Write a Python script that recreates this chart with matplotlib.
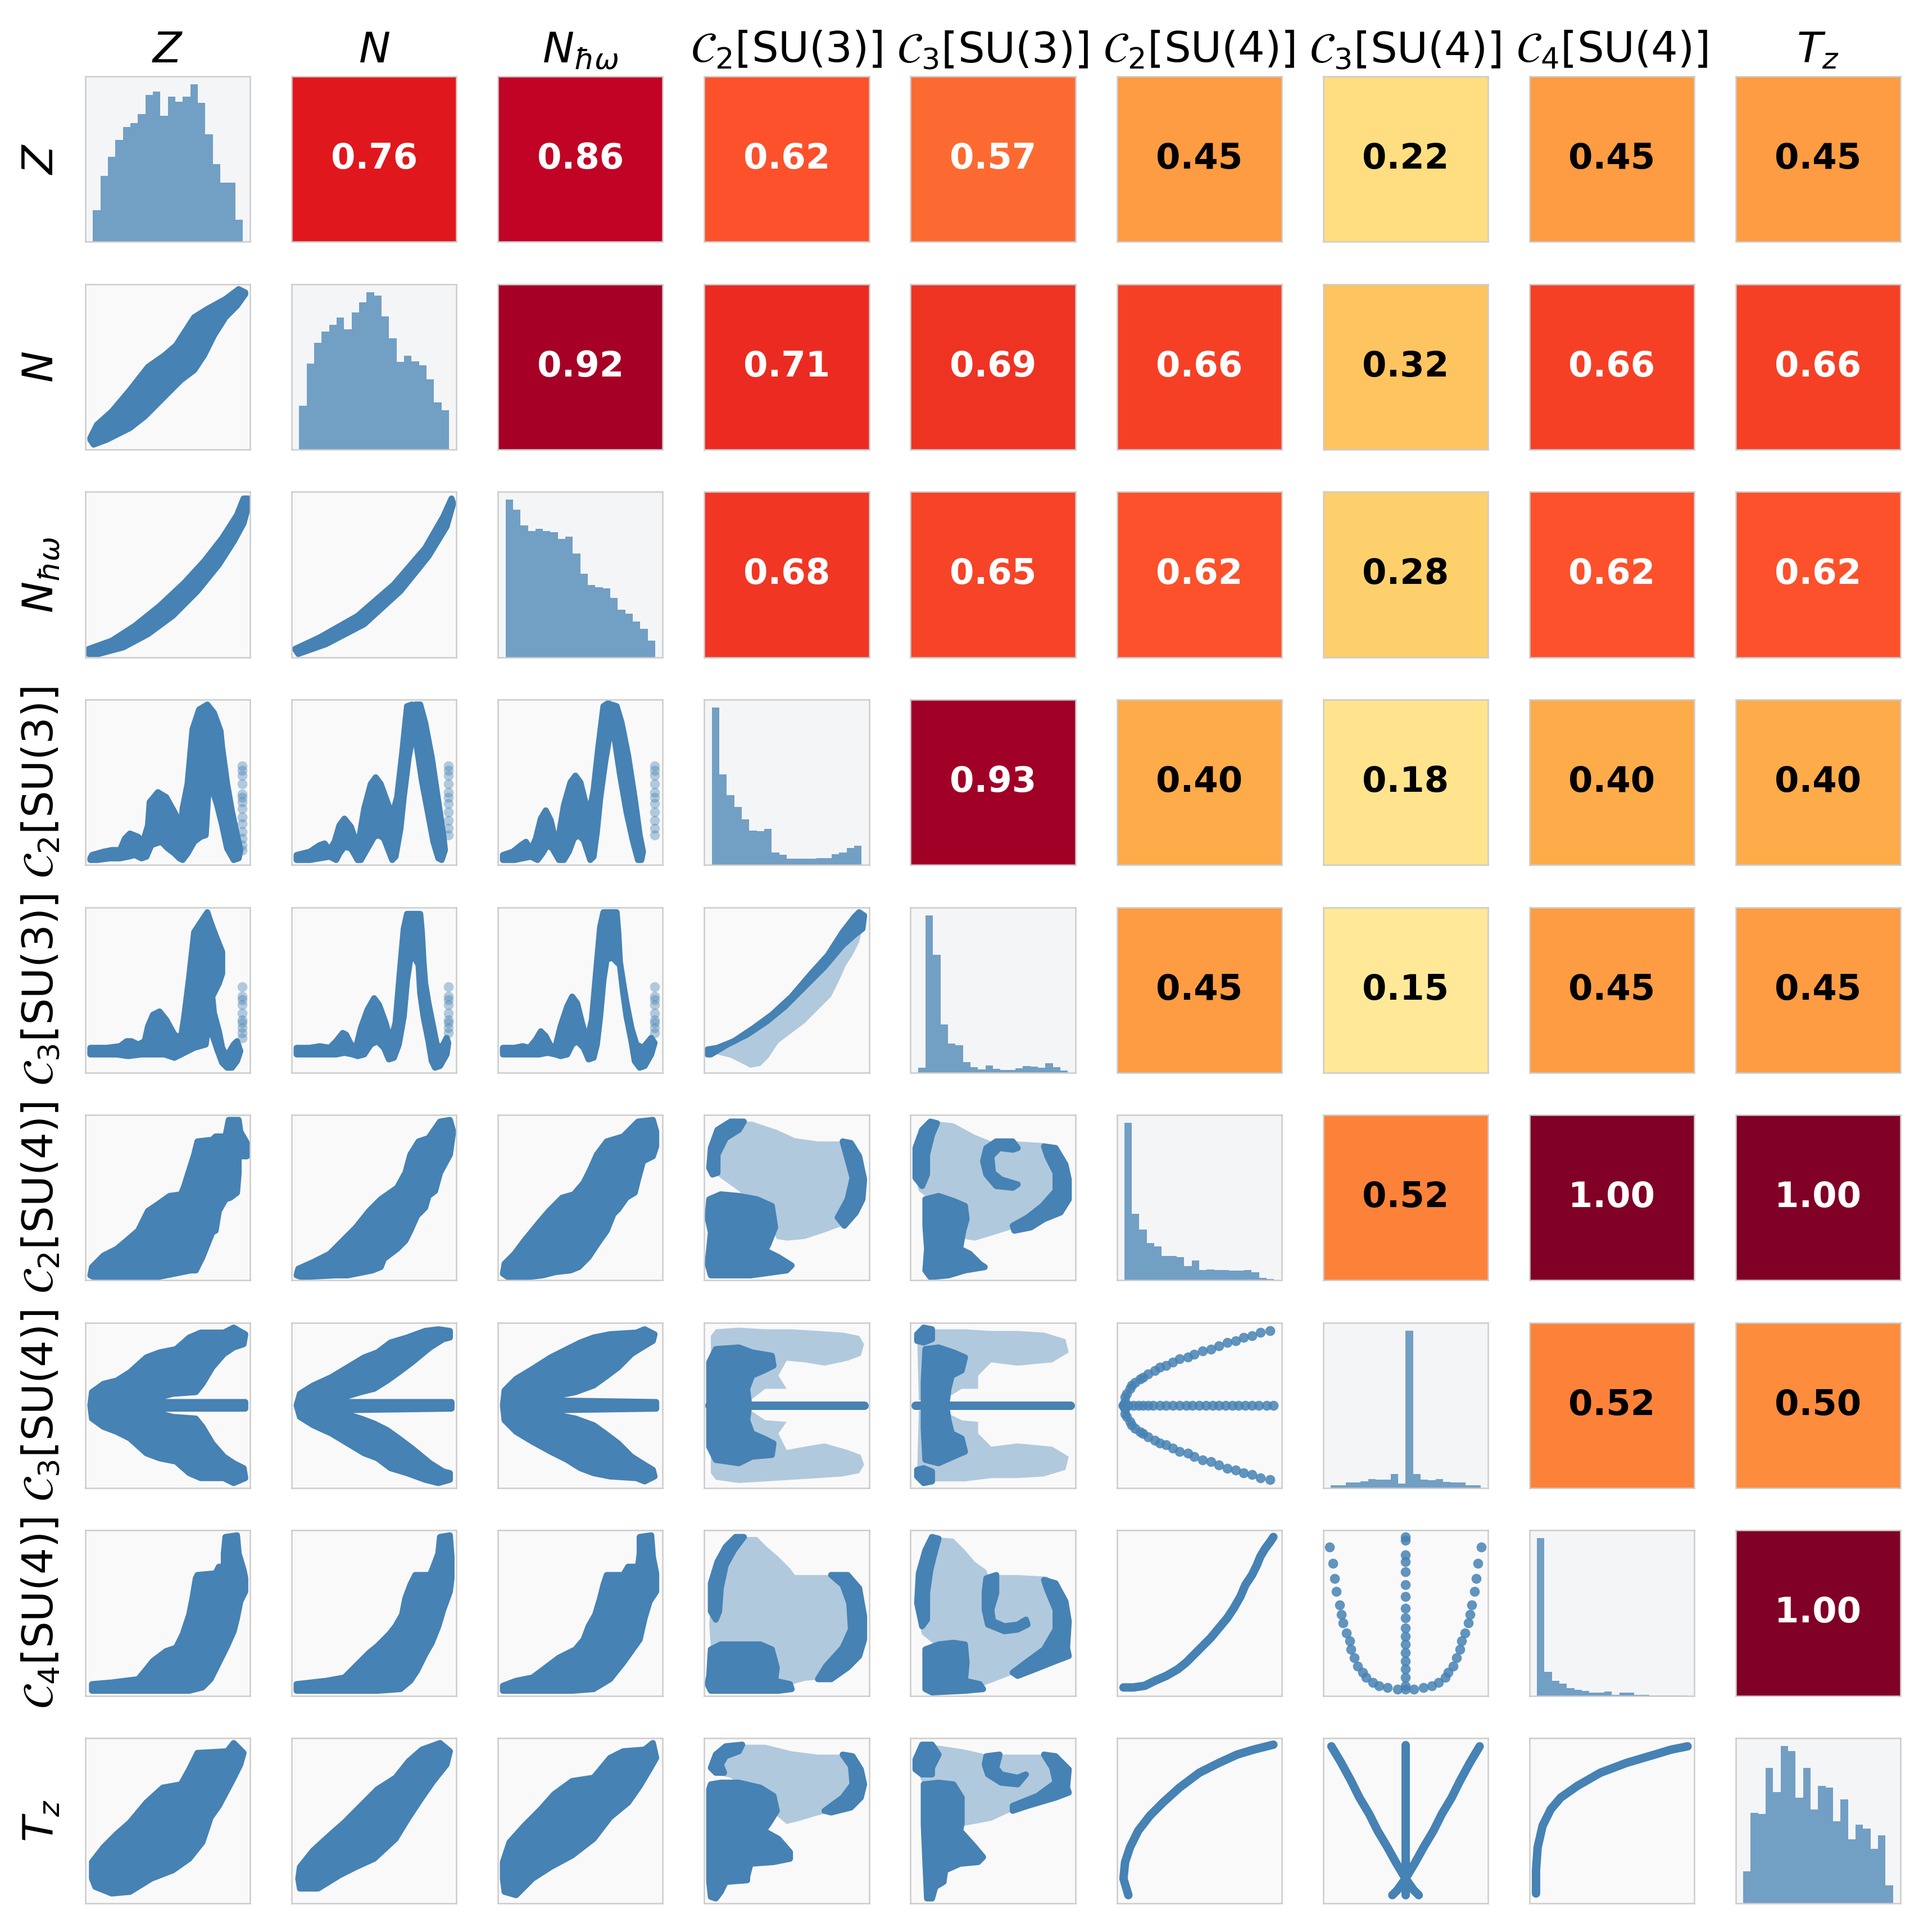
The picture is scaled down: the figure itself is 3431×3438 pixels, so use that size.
import matplotlib.pyplot as plt
from matplotlib import colormaps

# variable names (columns / rows of the pair grid)
labels = [r'$Z$', r'$N$', r'$N_{\hbar\omega}$',
          r'$\mathcal{C}_2[\mathrm{SU}(3)]$', r'$\mathcal{C}_3[\mathrm{SU}(3)]$',
          r'$\mathcal{C}_2[\mathrm{SU}(4)]$', r'$\mathcal{C}_3[\mathrm{SU}(4)]$',
          r'$\mathcal{C}_4[\mathrm{SU}(4)]$', r'$T_z$']

# upper triangle: correlation coefficients, row by row
corr_Z = [0.76, 0.86, 0.62, 0.57, 0.45, 0.22, 0.45, 0.45]
corr_N = [0.92, 0.71, 0.69, 0.66, 0.32, 0.66, 0.66]
corr_Nhw = [0.68, 0.65, 0.62, 0.28, 0.62, 0.62]
corr_C2SU3 = [0.93, 0.40, 0.18, 0.40, 0.40]
corr_C3SU3 = [0.45, 0.15, 0.45, 0.45]
corr_C2SU4 = [0.52, 1.00, 1.00]
corr_C3SU4 = [0.52, 0.50]
corr_C4SU4 = [1.00]
corr_rows = [corr_Z, corr_N, corr_Nhw, corr_C2SU3, corr_C3SU3,
             corr_C2SU4, corr_C3SU4, corr_C4SU4]

# diagonal: histogram counts (20 bins each, arbitrary units)
hist_Z = [98, 204, 262, 314, 354, 366, 394, 452, 462, 388, 448, 432, 447, 485, 429, 331, 239, 182, 183, 68]
hist_N = [135, 263, 328, 362, 383, 405, 368, 421, 452, 483, 472, 409, 341, 268, 287, 270, 258, 216, 144, 120]
hist_Nhw = [840, 786, 702, 672, 684, 672, 666, 630, 642, 552, 444, 384, 372, 366, 315, 255, 234, 192, 153, 90]
hist_C2SU3 = [487, 280, 215, 179, 141, 106, 104, 111, 39, 31, 20, 19, 19, 20, 22, 22, 34, 38, 53, 59]
hist_C3SU3 = [15, 485, 363, 148, 89, 85, 33, 17, 10, 22, 12, 9, 9, 13, 21, 19, 16, 29, 17, 6]
hist_C2SU4 = [837, 354, 270, 198, 180, 129, 129, 123, 75, 105, 54, 57, 54, 54, 51, 51, 54, 42, 12, 6]
hist_C3SU4 = [7, 7, 14, 14, 16, 22, 20, 20, 34, 11, 384, 34, 21, 19, 22, 15, 14, 14, 7, 7]
hist_C4SU4 = [834, 126, 78, 63, 39, 30, 24, 15, 15, 21, 6, 15, 15, 6, 6, 3, 1, 1, 1, 1]
hist_Tz = [79, 221, 218, 331, 272, 385, 373, 258, 331, 229, 287, 283, 201, 254, 157, 193, 183, 133, 166, 44]
hists = [hist_Z, hist_N, hist_Nhw, hist_C2SU3, hist_C3SU3,
         hist_C2SU4, hist_C3SU4, hist_C4SU4, hist_Tz]

# lower triangle: point clouds (scaled 0..1 per panel)
# 'dense' / 'light' = outlines of the crowded / sparse parts of the cloud,
# 'dots' = isolated points, 'pts' = single rows of points, 'curve' = tight point chains
sc_N_Z = {'dense': [[(0.03, 0.07), (0.07, 0.15), (0.16, 0.23), (0.27, 0.36), (0.38, 0.50), (0.48, 0.57),
                     (0.55, 0.63), (0.66, 0.80), (0.74, 0.85), (0.85, 0.91), (0.93, 0.97), (0.97, 0.95),
                     (0.97, 0.94), (0.92, 0.87), (0.85, 0.80), (0.78, 0.69), (0.72, 0.57), (0.66, 0.48),
                     (0.58, 0.42), (0.46, 0.30), (0.36, 0.20), (0.27, 0.13), (0.13, 0.06), (0.05, 0.03),
                     (0.03, 0.06)]]}

sc_Nhw_Z = {'dense': [[(0.02, 0.05), (0.16, 0.10), (0.30, 0.19), (0.45, 0.31), (0.60, 0.45), (0.72, 0.58),
                       (0.83, 0.72), (0.92, 0.86), (0.96, 0.96), (0.99, 0.96), (0.99, 0.92), (0.96, 0.81),
                       (0.90, 0.70), (0.81, 0.56), (0.68, 0.40), (0.53, 0.25), (0.38, 0.14), (0.23, 0.06),
                       (0.08, 0.02), (0.02, 0.02)]]}

sc_Nhw_N = {'dense': [[(0.02, 0.05), (0.17, 0.12), (0.40, 0.25), (0.62, 0.44), (0.81, 0.66), (0.92, 0.85),
                       (0.97, 0.96), (0.98, 0.93), (0.94, 0.79), (0.83, 0.61), (0.66, 0.40), (0.44, 0.20),
                       (0.21, 0.08), (0.04, 0.02)]]}

sc_C2SU3_Z = {
    'dense': [[(0.03, 0.04), (0.04, 0.06), (0.11, 0.08), (0.16, 0.09), (0.21, 0.09), (0.24, 0.16), (0.27, 0.19),
               (0.32, 0.17), (0.35, 0.14), (0.38, 0.24), (0.39, 0.38), (0.44, 0.44), (0.49, 0.41), (0.54, 0.32),
               (0.58, 0.24), (0.59, 0.34), (0.62, 0.49), (0.65, 0.82), (0.69, 0.94), (0.74, 0.97), (0.78, 0.92),
               (0.82, 0.81), (0.83, 0.71), (0.86, 0.49), (0.89, 0.32), (0.92, 0.18), (0.94, 0.09), (0.93, 0.04),
               (0.90, 0.03), (0.86, 0.10), (0.83, 0.24), (0.80, 0.36), (0.76, 0.49), (0.75, 0.51), (0.74, 0.34),
               (0.73, 0.18), (0.70, 0.17), (0.66, 0.14), (0.62, 0.07), (0.59, 0.03), (0.57, 0.04), (0.54, 0.07),
               (0.50, 0.10), (0.46, 0.14), (0.40, 0.12), (0.37, 0.05), (0.34, 0.04), (0.30, 0.06), (0.26, 0.05),
               (0.21, 0.04), (0.15, 0.04), (0.07, 0.03), (0.03, 0.03)]],
    'dots': [[(0.95, 0.60), (0.95, 0.57), (0.95, 0.54), (0.95, 0.49), (0.95, 0.43), (0.95, 0.41), (0.95, 0.38),
              (0.95, 0.34), (0.95, 0.29), (0.95, 0.25), (0.95, 0.20), (0.95, 0.16), (0.95, 0.12), (0.95, 0.09)]]}

sc_C2SU3_N = {
    'dense': [[(0.03, 0.03), (0.03, 0.06), (0.11, 0.08), (0.17, 0.12), (0.20, 0.13), (0.23, 0.09), (0.26, 0.14),
               (0.29, 0.24), (0.32, 0.28), (0.36, 0.23), (0.39, 0.14), (0.41, 0.16), (0.44, 0.34), (0.48, 0.49),
               (0.51, 0.53), (0.54, 0.49), (0.58, 0.38), (0.61, 0.30), (0.64, 0.41), (0.67, 0.67), (0.70, 0.96),
               (0.73, 0.97), (0.75, 0.96), (0.74, 0.81), (0.71, 0.65), (0.68, 0.41), (0.66, 0.22), (0.63, 0.05),
               (0.61, 0.03), (0.56, 0.16), (0.53, 0.18), (0.50, 0.17), (0.46, 0.10), (0.42, 0.03), (0.40, 0.03),
               (0.36, 0.10), (0.32, 0.11), (0.29, 0.07), (0.27, 0.03), (0.23, 0.05), (0.17, 0.04), (0.11, 0.03),
               (0.05, 0.03)],
              [(0.75, 0.97), (0.78, 0.97), (0.81, 0.86), (0.85, 0.65), (0.89, 0.38), (0.92, 0.18), (0.93, 0.09),
               (0.91, 0.03), (0.89, 0.04), (0.86, 0.14), (0.83, 0.30), (0.79, 0.51), (0.76, 0.71), (0.74, 0.81)]],
    'dots': [[(0.95, 0.60), (0.95, 0.57), (0.95, 0.54), (0.95, 0.49), (0.95, 0.44), (0.95, 0.41), (0.95, 0.37),
              (0.95, 0.32), (0.95, 0.27), (0.95, 0.22), (0.95, 0.18)]]}

sc_C2SU3_Nhw = {
    'dense': [[(0.03, 0.03), (0.03, 0.06), (0.09, 0.08), (0.14, 0.12), (0.17, 0.14), (0.20, 0.09), (0.23, 0.16),
               (0.26, 0.28), (0.29, 0.33), (0.32, 0.27), (0.35, 0.14), (0.37, 0.18), (0.40, 0.36), (0.44, 0.50),
               (0.47, 0.54), (0.50, 0.50), (0.53, 0.38), (0.55, 0.30), (0.58, 0.45), (0.61, 0.72), (0.64, 0.96),
               (0.67, 0.98), (0.69, 0.96), (0.68, 0.80), (0.65, 0.62), (0.62, 0.40), (0.60, 0.20), (0.58, 0.05),
               (0.56, 0.03), (0.52, 0.15), (0.49, 0.18), (0.46, 0.16), (0.43, 0.08), (0.40, 0.03), (0.37, 0.03),
               (0.33, 0.10), (0.30, 0.12), (0.27, 0.07), (0.24, 0.03), (0.20, 0.05), (0.15, 0.04), (0.10, 0.03),
               (0.05, 0.03)],
              [(0.69, 0.97), (0.72, 0.96), (0.75, 0.86), (0.79, 0.66), (0.83, 0.40), (0.86, 0.18), (0.88, 0.08),
               (0.87, 0.03), (0.85, 0.03), (0.82, 0.14), (0.78, 0.32), (0.74, 0.55), (0.71, 0.75), (0.68, 0.82)]],
    'dots': [[(0.95, 0.60), (0.95, 0.57), (0.95, 0.54), (0.95, 0.49), (0.95, 0.44), (0.95, 0.41), (0.95, 0.37),
              (0.95, 0.32), (0.95, 0.27), (0.95, 0.22), (0.95, 0.18)]]}

sc_C3SU3_Z = {
    'dense': [[(0.03, 0.11), (0.03, 0.15), (0.13, 0.15), (0.21, 0.16), (0.25, 0.19), (0.28, 0.19), (0.32, 0.17),
               (0.36, 0.19), (0.38, 0.28), (0.41, 0.35), (0.45, 0.37), (0.49, 0.32), (0.54, 0.23), (0.58, 0.21),
               (0.60, 0.34), (0.63, 0.58), (0.66, 0.85), (0.70, 0.91), (0.74, 0.97), (0.76, 0.91), (0.79, 0.83),
               (0.83, 0.73), (0.83, 0.60), (0.81, 0.54), (0.77, 0.46), (0.78, 0.36), (0.81, 0.25), (0.83, 0.15),
               (0.85, 0.11), (0.87, 0.12), (0.90, 0.17), (0.92, 0.19), (0.94, 0.13), (0.92, 0.07), (0.89, 0.03),
               (0.86, 0.03), (0.83, 0.06), (0.80, 0.14), (0.77, 0.23), (0.75, 0.32), (0.73, 0.17), (0.66, 0.15),
               (0.58, 0.11), (0.54, 0.09), (0.48, 0.11), (0.42, 0.11), (0.34, 0.11), (0.26, 0.10), (0.19, 0.11),
               (0.07, 0.11)]],
    'dots': [[(0.95, 0.52), (0.95, 0.46), (0.95, 0.44), (0.95, 0.41), (0.95, 0.36), (0.95, 0.32), (0.95, 0.30),
              (0.95, 0.27), (0.95, 0.24), (0.95, 0.21)]]}

sc_C3SU3_N = {
    'dense': [[(0.03, 0.11), (0.03, 0.15), (0.11, 0.15), (0.17, 0.16), (0.23, 0.15), (0.27, 0.19), (0.31, 0.24),
               (0.33, 0.23), (0.36, 0.17), (0.39, 0.15), (0.42, 0.27), (0.46, 0.38), (0.50, 0.45), (0.53, 0.41),
               (0.57, 0.30), (0.60, 0.19), (0.63, 0.30), (0.66, 0.65), (0.68, 0.87), (0.70, 0.96), (0.74, 0.96),
               (0.75, 0.85), (0.74, 0.69), (0.72, 0.69), (0.70, 0.56), (0.68, 0.34), (0.65, 0.17), (0.62, 0.09),
               (0.59, 0.08), (0.56, 0.15), (0.52, 0.19), (0.48, 0.17), (0.44, 0.11), (0.40, 0.10), (0.37, 0.11),
               (0.32, 0.12), (0.27, 0.11), (0.19, 0.11), (0.11, 0.11)],
              [(0.74, 0.96), (0.78, 0.96), (0.79, 0.85), (0.80, 0.67), (0.81, 0.54), (0.83, 0.42), (0.86, 0.27),
               (0.88, 0.17), (0.91, 0.15), (0.94, 0.21), (0.95, 0.18), (0.94, 0.11), (0.90, 0.04), (0.87, 0.03),
               (0.85, 0.07), (0.83, 0.19), (0.80, 0.34), (0.78, 0.48), (0.77, 0.65), (0.75, 0.69)]],
    'dots': [[(0.95, 0.52), (0.95, 0.46), (0.95, 0.44), (0.95, 0.41), (0.95, 0.36), (0.95, 0.32), (0.95, 0.30),
              (0.95, 0.27), (0.95, 0.24)]]}

sc_C3SU3_Nhw = {
    'dense': [[(0.03, 0.11), (0.03, 0.15), (0.10, 0.15), (0.15, 0.16), (0.19, 0.15), (0.23, 0.20), (0.26, 0.25),
               (0.29, 0.22), (0.32, 0.16), (0.35, 0.16), (0.38, 0.28), (0.42, 0.40), (0.45, 0.46), (0.48, 0.42),
               (0.51, 0.30), (0.54, 0.19), (0.57, 0.32), (0.60, 0.66), (0.62, 0.88), (0.64, 0.97), (0.68, 0.97),
               (0.69, 0.85), (0.68, 0.69), (0.66, 0.69), (0.64, 0.56), (0.62, 0.34), (0.60, 0.17), (0.58, 0.09),
               (0.55, 0.08), (0.52, 0.15), (0.48, 0.19), (0.45, 0.17), (0.42, 0.11), (0.38, 0.10), (0.35, 0.11),
               (0.30, 0.12), (0.25, 0.11), (0.18, 0.11), (0.10, 0.11)],
              [(0.68, 0.97), (0.72, 0.97), (0.73, 0.85), (0.74, 0.67), (0.76, 0.54), (0.78, 0.42), (0.81, 0.27),
               (0.84, 0.17), (0.88, 0.15), (0.93, 0.21), (0.95, 0.18), (0.93, 0.11), (0.89, 0.04), (0.86, 0.03),
               (0.83, 0.07), (0.81, 0.19), (0.78, 0.34), (0.76, 0.48), (0.74, 0.65), (0.70, 0.69)]],
    'dots': [[(0.95, 0.52), (0.95, 0.46), (0.95, 0.44), (0.95, 0.41), (0.95, 0.36), (0.95, 0.32), (0.95, 0.30),
              (0.95, 0.27), (0.95, 0.24)]]}

sc_C3SU3_C2SU3 = {
    'light': [[(0.02, 0.14), (0.08, 0.15), (0.18, 0.19), (0.30, 0.27), (0.41, 0.35), (0.53, 0.46), (0.65, 0.60),
               (0.75, 0.71), (0.84, 0.85), (0.91, 0.94), (0.94, 0.97), (0.97, 0.95), (0.96, 0.87), (0.94, 0.79),
               (0.90, 0.71), (0.86, 0.65), (0.82, 0.56), (0.77, 0.46), (0.69, 0.38), (0.61, 0.30), (0.53, 0.24),
               (0.45, 0.18), (0.39, 0.09), (0.34, 0.04), (0.28, 0.03), (0.22, 0.06), (0.16, 0.09), (0.08, 0.11),
               (0.02, 0.11)]],
    'dense': [[(0.02, 0.14), (0.08, 0.15), (0.18, 0.19), (0.30, 0.27), (0.41, 0.35), (0.53, 0.46), (0.65, 0.60),
               (0.75, 0.71), (0.84, 0.85), (0.91, 0.94), (0.94, 0.97), (0.97, 0.95), (0.96, 0.87), (0.92, 0.84),
               (0.84, 0.77), (0.73, 0.64), (0.61, 0.52), (0.49, 0.40), (0.38, 0.31), (0.26, 0.23), (0.14, 0.17),
               (0.04, 0.11), (0.02, 0.11)]]}

sc_C2SU4_Z = {'dense': [[(0.03, 0.03), (0.04, 0.08), (0.11, 0.15), (0.19, 0.19), (0.25, 0.24), (0.32, 0.30),
                         (0.38, 0.42), (0.44, 0.46), (0.51, 0.51), (0.58, 0.52), (0.60, 0.57), (0.66, 0.76),
                         (0.68, 0.84), (0.77, 0.85), (0.79, 0.87), (0.85, 0.87), (0.87, 0.97), (0.93, 0.97),
                         (0.94, 0.90), (0.98, 0.83), (0.98, 0.75), (0.93, 0.75), (0.93, 0.65), (0.92, 0.53),
                         (0.88, 0.50), (0.85, 0.49), (0.81, 0.42), (0.79, 0.30), (0.77, 0.29), (0.71, 0.14),
                         (0.67, 0.06), (0.64, 0.06), (0.54, 0.04), (0.44, 0.02), (0.05, 0.02)]]}

sc_C2SU4_N = {'dense': [[(0.03, 0.03), (0.04, 0.07), (0.13, 0.11), (0.23, 0.16), (0.31, 0.24), (0.39, 0.32),
                         (0.47, 0.42), (0.54, 0.49), (0.64, 0.56), (0.69, 0.65), (0.72, 0.76), (0.77, 0.84),
                         (0.83, 0.86), (0.90, 0.96), (0.96, 0.97), (0.98, 0.90), (0.96, 0.76), (0.90, 0.65),
                         (0.87, 0.54), (0.83, 0.51), (0.81, 0.44), (0.76, 0.39), (0.72, 0.30), (0.69, 0.24),
                         (0.64, 0.19), (0.56, 0.13), (0.54, 0.08), (0.49, 0.06), (0.44, 0.05), (0.34, 0.03),
                         (0.27, 0.03), (0.06, 0.02)]]}

sc_C2SU4_Nhw = {'dense': [[(0.03, 0.04), (0.04, 0.10), (0.10, 0.16), (0.16, 0.24), (0.25, 0.35), (0.31, 0.42),
                           (0.39, 0.50), (0.46, 0.52), (0.52, 0.59), (0.56, 0.67), (0.60, 0.76), (0.66, 0.84),
                           (0.76, 0.87), (0.85, 0.96), (0.94, 0.97), (0.96, 0.90), (0.96, 0.81), (0.94, 0.75),
                           (0.88, 0.72), (0.85, 0.61), (0.83, 0.53), (0.78, 0.50), (0.73, 0.43), (0.70, 0.40),
                           (0.66, 0.30), (0.61, 0.23), (0.55, 0.14), (0.49, 0.08), (0.44, 0.06), (0.35, 0.05),
                           (0.27, 0.03), (0.18, 0.02), (0.06, 0.02)]]}

sc_C2SU4_C2SU3 = {
    'light': [[(0.03, 0.70), (0.04, 0.83), (0.10, 0.92), (0.18, 0.96), (0.29, 0.96), (0.44, 0.91), (0.55, 0.86),
               (0.69, 0.84), (0.87, 0.84), (0.94, 0.76), (0.97, 0.62), (0.96, 0.49), (0.92, 0.41), (0.84, 0.33),
               (0.73, 0.29), (0.61, 0.25), (0.50, 0.24), (0.44, 0.25), (0.41, 0.32), (0.21, 0.54), (0.07, 0.64)]],
    'dense': [[(0.03, 0.49), (0.10, 0.52), (0.21, 0.51), (0.32, 0.49), (0.41, 0.45), (0.43, 0.32), (0.39, 0.22),
               (0.37, 0.18), (0.45, 0.14), (0.53, 0.09), (0.50, 0.06), (0.28, 0.03), (0.04, 0.03), (0.02, 0.10),
               (0.03, 0.19), (0.04, 0.29), (0.02, 0.38)],
              [(0.03, 0.68), (0.04, 0.80), (0.08, 0.91), (0.16, 0.96), (0.24, 0.96), (0.21, 0.91), (0.13, 0.86),
               (0.08, 0.76), (0.08, 0.65), (0.05, 0.64)],
              [(0.84, 0.84), (0.89, 0.83), (0.94, 0.75), (0.97, 0.61), (0.96, 0.49), (0.92, 0.41), (0.85, 0.33),
               (0.81, 0.38), (0.87, 0.49), (0.90, 0.62), (0.87, 0.73)]]}

sc_C2SU4_C3SU3 = {
    'light': [[(0.03, 0.62), (0.04, 0.81), (0.09, 0.94), (0.17, 0.96), (0.26, 0.95), (0.39, 0.88), (0.49, 0.84),
               (0.65, 0.84), (0.81, 0.83), (0.91, 0.78), (0.96, 0.66), (0.95, 0.57), (0.96, 0.46), (0.91, 0.40),
               (0.78, 0.35), (0.65, 0.32), (0.49, 0.27), (0.39, 0.24), (0.33, 0.25), (0.30, 0.35), (0.17, 0.45),
               (0.05, 0.54)]],
    'dense': [[(0.09, 0.49), (0.17, 0.51), (0.26, 0.48), (0.33, 0.45), (0.34, 0.37), (0.32, 0.30), (0.30, 0.19),
               (0.36, 0.16), (0.42, 0.10), (0.45, 0.08), (0.33, 0.06), (0.23, 0.03), (0.12, 0.02), (0.09, 0.06),
               (0.10, 0.19), (0.09, 0.33)],
              [(0.03, 0.62), (0.03, 0.80), (0.07, 0.91), (0.12, 0.96), (0.16, 0.95), (0.13, 0.88), (0.10, 0.76),
               (0.10, 0.64), (0.07, 0.57)],
              [(0.46, 0.80), (0.52, 0.84), (0.62, 0.84), (0.65, 0.80), (0.62, 0.79), (0.54, 0.80), (0.49, 0.75),
               (0.50, 0.65), (0.55, 0.61), (0.65, 0.58), (0.62, 0.56), (0.52, 0.57), (0.46, 0.64), (0.44, 0.72)],
              [(0.81, 0.81), (0.88, 0.80), (0.94, 0.70), (0.96, 0.61), (0.96, 0.49), (0.91, 0.41), (0.81, 0.37),
               (0.73, 0.32), (0.63, 0.30), (0.62, 0.33), (0.71, 0.38), (0.80, 0.45), (0.88, 0.54), (0.88, 0.65),
               (0.83, 0.75)]]}

sc_C3SU4_Z = {'dense': [[(0.03, 0.50), (0.04, 0.58), (0.11, 0.63), (0.19, 0.65), (0.27, 0.70), (0.37, 0.79),
                         (0.45, 0.82), (0.55, 0.84), (0.63, 0.91), (0.70, 0.94), (0.84, 0.94), (0.90, 0.97),
                         (0.97, 0.93), (0.96, 0.87), (0.90, 0.85), (0.84, 0.81), (0.77, 0.73), (0.71, 0.63),
                         (0.67, 0.58), (0.53, 0.57), (0.42, 0.54), (0.37, 0.52), (0.97, 0.52), (0.97, 0.48),
                         (0.37, 0.48), (0.42, 0.46), (0.53, 0.43), (0.67, 0.42), (0.71, 0.37), (0.77, 0.27),
                         (0.84, 0.19), (0.90, 0.15), (0.96, 0.12), (0.97, 0.06), (0.90, 0.03), (0.84, 0.06),
                         (0.70, 0.06), (0.63, 0.09), (0.55, 0.16), (0.45, 0.18), (0.37, 0.21), (0.27, 0.30),
                         (0.19, 0.34), (0.11, 0.37), (0.04, 0.42)]]}

sc_C3SU4_N = {'dense': [[(0.03, 0.50), (0.05, 0.57), (0.13, 0.62), (0.24, 0.67), (0.34, 0.73), (0.44, 0.79),
                         (0.52, 0.82), (0.60, 0.88), (0.70, 0.91), (0.81, 0.95), (0.89, 0.96), (0.96, 0.95),
                         (0.96, 0.91), (0.92, 0.90), (0.84, 0.85), (0.73, 0.76), (0.65, 0.70), (0.58, 0.65),
                         (0.50, 0.60), (0.42, 0.58), (0.32, 0.55), (0.24, 0.52), (0.97, 0.52), (0.97, 0.48),
                         (0.24, 0.47), (0.32, 0.45), (0.42, 0.42), (0.50, 0.39), (0.58, 0.35), (0.65, 0.30),
                         (0.73, 0.24), (0.84, 0.15), (0.92, 0.10), (0.96, 0.09), (0.96, 0.05), (0.89, 0.03),
                         (0.81, 0.05), (0.70, 0.09), (0.60, 0.12), (0.52, 0.18), (0.44, 0.21), (0.34, 0.27),
                         (0.24, 0.33), (0.13, 0.38), (0.05, 0.43)]]}

sc_C3SU4_Nhw = {'dense': [[(0.03, 0.50), (0.04, 0.59), (0.11, 0.66), (0.21, 0.72), (0.32, 0.79), (0.42, 0.84),
                           (0.50, 0.88), (0.58, 0.91), (0.68, 0.93), (0.84, 0.94), (0.89, 0.96), (0.95, 0.93),
                           (0.94, 0.89), (0.89, 0.86), (0.81, 0.81), (0.73, 0.73), (0.65, 0.67), (0.58, 0.62),
                           (0.47, 0.58), (0.37, 0.56), (0.29, 0.53), (0.96, 0.52), (0.96, 0.48), (0.29, 0.47),
                           (0.37, 0.44), (0.47, 0.42), (0.58, 0.38), (0.65, 0.33), (0.73, 0.27), (0.81, 0.19),
                           (0.89, 0.14), (0.94, 0.11), (0.95, 0.07), (0.89, 0.04), (0.84, 0.06), (0.68, 0.07),
                           (0.58, 0.09), (0.50, 0.12), (0.42, 0.17), (0.32, 0.22), (0.21, 0.28), (0.11, 0.34),
                           (0.04, 0.41)]]}

sc_C3SU4_C2SU3 = {
    'light': [[(0.04, 0.92), (0.07, 0.96), (0.21, 0.97), (0.37, 0.96), (0.53, 0.96), (0.69, 0.95), (0.84, 0.94),
               (0.94, 0.92), (0.97, 0.87), (0.95, 0.80), (0.87, 0.77), (0.73, 0.74), (0.61, 0.76), (0.50, 0.77),
               (0.45, 0.68), (0.50, 0.60), (0.37, 0.60), (0.28, 0.53), (0.04, 0.53)],
              [(0.04, 0.47), (0.28, 0.47), (0.37, 0.41), (0.50, 0.40), (0.45, 0.33), (0.50, 0.23), (0.61, 0.25),
               (0.73, 0.27), (0.87, 0.23), (0.95, 0.20), (0.97, 0.14), (0.94, 0.09), (0.84, 0.07), (0.69, 0.06),
               (0.53, 0.05), (0.37, 0.04), (0.21, 0.03), (0.07, 0.05), (0.04, 0.09)]],
    'dense': [[(0.03, 0.76), (0.07, 0.84), (0.21, 0.85), (0.29, 0.82), (0.41, 0.80), (0.42, 0.74), (0.36, 0.71),
               (0.29, 0.68), (0.26, 0.60), (0.27, 0.52), (0.27, 0.48), (0.26, 0.41), (0.29, 0.33), (0.36, 0.30),
               (0.42, 0.27), (0.41, 0.20), (0.29, 0.19), (0.21, 0.15), (0.07, 0.17), (0.03, 0.25)]],
    'curve': [[(0.03, 0.50), (0.97, 0.50)]]}

sc_C3SU4_C3SU3 = {
    'light': [[(0.04, 0.92), (0.12, 0.96), (0.33, 0.96), (0.49, 0.95), (0.65, 0.95), (0.81, 0.94), (0.94, 0.90),
               (0.96, 0.82), (0.86, 0.76), (0.65, 0.74), (0.49, 0.76), (0.41, 0.68), (0.41, 0.60), (0.31, 0.60),
               (0.23, 0.55), (0.05, 0.53)],
              [(0.05, 0.47), (0.23, 0.45), (0.31, 0.41), (0.41, 0.40), (0.41, 0.33), (0.49, 0.25), (0.65, 0.27),
               (0.86, 0.25), (0.96, 0.19), (0.94, 0.11), (0.81, 0.07), (0.65, 0.06), (0.49, 0.06), (0.33, 0.04),
               (0.12, 0.04), (0.04, 0.09)]],
    'dense': [[(0.09, 0.84), (0.17, 0.85), (0.26, 0.82), (0.33, 0.79), (0.31, 0.71), (0.25, 0.68), (0.23, 0.60),
               (0.22, 0.52), (0.22, 0.48), (0.23, 0.41), (0.25, 0.33), (0.31, 0.30), (0.33, 0.22), (0.26, 0.19),
               (0.17, 0.15), (0.09, 0.17), (0.08, 0.36), (0.08, 0.64)],
              [(0.04, 0.93), (0.08, 0.97), (0.13, 0.96), (0.13, 0.90), (0.08, 0.88), (0.04, 0.89)],
              [(0.04, 0.07), (0.08, 0.03), (0.13, 0.04), (0.13, 0.10), (0.08, 0.12), (0.04, 0.11)]],
    'curve': [[(0.03, 0.50), (0.97, 0.50)]]}

sc_C3SU4_C2SU4 = {'pts': [
    [(0.04, 0.50), (0.05, 0.52), (0.05, 0.55), (0.06, 0.57), (0.08, 0.60), (0.09, 0.62), (0.11, 0.64), (0.14, 0.66),
     (0.16, 0.67), (0.19, 0.69), (0.23, 0.71), (0.26, 0.73), (0.30, 0.74), (0.34, 0.76), (0.38, 0.78), (0.43, 0.79),
     (0.47, 0.81), (0.52, 0.83), (0.57, 0.84), (0.62, 0.86), (0.67, 0.88), (0.72, 0.89), (0.77, 0.91), (0.82, 0.92),
     (0.87, 0.94), (0.93, 0.95)],
    [(0.04, 0.50), (0.05, 0.48), (0.05, 0.45), (0.06, 0.43), (0.08, 0.40), (0.09, 0.38), (0.11, 0.36), (0.14, 0.34),
     (0.16, 0.33), (0.19, 0.31), (0.23, 0.29), (0.26, 0.27), (0.30, 0.26), (0.34, 0.24), (0.38, 0.22), (0.43, 0.21),
     (0.47, 0.19), (0.52, 0.17), (0.57, 0.16), (0.62, 0.14), (0.67, 0.12), (0.72, 0.11), (0.77, 0.09), (0.82, 0.08),
     (0.87, 0.06), (0.93, 0.05)],
    [(0.04, 0.50), (0.07, 0.50), (0.10, 0.50), (0.13, 0.50), (0.16, 0.50), (0.19, 0.50), (0.22, 0.50), (0.26, 0.50),
     (0.30, 0.50), (0.34, 0.50), (0.38, 0.50), (0.42, 0.50), (0.46, 0.50), (0.50, 0.50), (0.54, 0.50), (0.58, 0.50),
     (0.62, 0.50), (0.66, 0.50), (0.70, 0.50), (0.74, 0.50), (0.78, 0.50), (0.82, 0.50), (0.86, 0.50), (0.91, 0.50),
     (0.95, 0.50)]]}

sc_C4SU4_Z = {'dense': [[(0.04, 0.07), (0.16, 0.08), (0.32, 0.10), (0.37, 0.16), (0.41, 0.21), (0.49, 0.27),
                         (0.55, 0.29), (0.59, 0.37), (0.63, 0.49), (0.65, 0.59), (0.67, 0.71), (0.68, 0.73),
                         (0.79, 0.74), (0.81, 0.78), (0.84, 0.78), (0.84, 0.86), (0.85, 0.96), (0.92, 0.97),
                         (0.93, 0.86), (0.96, 0.76), (0.97, 0.71), (0.97, 0.63), (0.94, 0.57), (0.92, 0.47),
                         (0.90, 0.39), (0.86, 0.30), (0.81, 0.20), (0.76, 0.10), (0.71, 0.05), (0.63, 0.03),
                         (0.40, 0.03), (0.04, 0.03)]]}

sc_C4SU4_N = {'dense': [[(0.03, 0.07), (0.21, 0.09), (0.32, 0.11), (0.39, 0.18), (0.47, 0.26), (0.52, 0.30),
                         (0.59, 0.37), (0.63, 0.42), (0.67, 0.49), (0.69, 0.59), (0.72, 0.67), (0.75, 0.73),
                         (0.84, 0.73), (0.86, 0.78), (0.89, 0.86), (0.90, 0.96), (0.96, 0.97), (0.97, 0.84),
                         (0.97, 0.71), (0.96, 0.63), (0.92, 0.52), (0.89, 0.42), (0.85, 0.32), (0.81, 0.25),
                         (0.76, 0.15), (0.72, 0.09), (0.66, 0.04), (0.52, 0.03), (0.03, 0.03)]]}

sc_C4SU4_Nhw = {'dense': [[(0.03, 0.06), (0.11, 0.09), (0.21, 0.11), (0.29, 0.17), (0.37, 0.23), (0.47, 0.28),
                           (0.52, 0.34), (0.55, 0.42), (0.59, 0.49), (0.62, 0.59), (0.64, 0.67), (0.66, 0.73),
                           (0.76, 0.73), (0.79, 0.78), (0.85, 0.78), (0.86, 0.86), (0.86, 0.96), (0.93, 0.97),
                           (0.94, 0.84), (0.96, 0.74), (0.96, 0.63), (0.92, 0.57), (0.89, 0.47), (0.86, 0.34),
                           (0.81, 0.27), (0.76, 0.20), (0.68, 0.10), (0.58, 0.04), (0.45, 0.03), (0.03, 0.03)]]}

sc_C4SU4_C2SU3 = {
    'light': [[(0.04, 0.56), (0.04, 0.71), (0.08, 0.84), (0.13, 0.93), (0.21, 0.96), (0.32, 0.96), (0.38, 0.90),
               (0.45, 0.84), (0.52, 0.77), (0.55, 0.73), (0.69, 0.73), (0.87, 0.73), (0.94, 0.63), (0.97, 0.48),
               (0.96, 0.32), (0.92, 0.24), (0.84, 0.15), (0.73, 0.10), (0.61, 0.09), (0.50, 0.06), (0.44, 0.09),
               (0.44, 0.18), (0.37, 0.29), (0.21, 0.32), (0.04, 0.29), (0.03, 0.43)]],
    'dense': [[(0.03, 0.12), (0.04, 0.28), (0.10, 0.31), (0.21, 0.31), (0.34, 0.31), (0.41, 0.28), (0.44, 0.17),
               (0.43, 0.09), (0.52, 0.07), (0.53, 0.04), (0.45, 0.03), (0.29, 0.03), (0.04, 0.03), (0.02, 0.07)],
              [(0.77, 0.73), (0.87, 0.73), (0.94, 0.65), (0.97, 0.48), (0.97, 0.34), (0.94, 0.24), (0.87, 0.17),
               (0.77, 0.10), (0.69, 0.10), (0.74, 0.18), (0.84, 0.29), (0.89, 0.40), (0.88, 0.56), (0.84, 0.67)],
              [(0.04, 0.51), (0.04, 0.68), (0.08, 0.81), (0.13, 0.90), (0.19, 0.96), (0.24, 0.96), (0.18, 0.88),
               (0.13, 0.79), (0.10, 0.65), (0.09, 0.51), (0.07, 0.46)]]}

sc_C4SU4_C3SU3 = {
    'light': [[(0.04, 0.48), (0.05, 0.71), (0.09, 0.87), (0.13, 0.96), (0.26, 0.95), (0.33, 0.88), (0.39, 0.81),
               (0.46, 0.76), (0.47, 0.73), (0.65, 0.73), (0.83, 0.72), (0.89, 0.67), (0.96, 0.51), (0.96, 0.34),
               (0.96, 0.24), (0.91, 0.21), (0.81, 0.18), (0.65, 0.14), (0.52, 0.09), (0.44, 0.06), (0.33, 0.04),
               (0.31, 0.15), (0.17, 0.29), (0.07, 0.37)]],
    'dense': [[(0.09, 0.28), (0.17, 0.31), (0.26, 0.32), (0.33, 0.31), (0.34, 0.20), (0.33, 0.09), (0.42, 0.07),
               (0.44, 0.04), (0.33, 0.03), (0.13, 0.02), (0.09, 0.04), (0.09, 0.15)],
              [(0.04, 0.56), (0.05, 0.74), (0.09, 0.88), (0.13, 0.96), (0.17, 0.95), (0.15, 0.88), (0.12, 0.76),
               (0.10, 0.62), (0.10, 0.46), (0.07, 0.42)],
              [(0.46, 0.71), (0.52, 0.73), (0.52, 0.62), (0.49, 0.52), (0.50, 0.45), (0.57, 0.42), (0.65, 0.43),
               (0.70, 0.46), (0.71, 0.43), (0.65, 0.40), (0.57, 0.39), (0.47, 0.43), (0.45, 0.52), (0.45, 0.63)],
              [(0.81, 0.70), (0.88, 0.68), (0.94, 0.57), (0.96, 0.45), (0.95, 0.29), (0.96, 0.24), (0.88, 0.21),
               (0.78, 0.17), (0.65, 0.12), (0.62, 0.14), (0.70, 0.20), (0.81, 0.28), (0.88, 0.40), (0.88, 0.52),
               (0.83, 0.64)]]}

sc_C4SU4_C2SU4 = {'curve': [[(0.04, 0.05), (0.10, 0.05), (0.17, 0.06), (0.23, 0.09), (0.30, 0.12), (0.37, 0.16),
                             (0.42, 0.20), (0.47, 0.25), (0.52, 0.30), (0.57, 0.35), (0.62, 0.41), (0.67, 0.47),
                             (0.71, 0.53), (0.75, 0.60), (0.78, 0.67), (0.82, 0.73), (0.85, 0.79), (0.87, 0.84),
                             (0.90, 0.89), (0.93, 0.93), (0.95, 0.96)]]}

sc_C4SU4_C3SU4 = {'pts': [
    [(0.04, 0.90), (0.06, 0.80), (0.07, 0.71), (0.08, 0.63), (0.10, 0.55), (0.11, 0.49), (0.12, 0.44), (0.14, 0.38),
     (0.16, 0.33), (0.17, 0.28), (0.19, 0.23), (0.21, 0.18), (0.24, 0.14), (0.26, 0.11), (0.30, 0.08), (0.34, 0.06),
     (0.39, 0.05), (0.45, 0.04), (0.50, 0.04)],
    [(0.96, 0.90), (0.94, 0.80), (0.93, 0.71), (0.92, 0.63), (0.90, 0.55), (0.89, 0.49), (0.88, 0.44), (0.86, 0.38),
     (0.84, 0.33), (0.83, 0.28), (0.81, 0.23), (0.79, 0.18), (0.76, 0.14), (0.74, 0.11), (0.70, 0.08), (0.66, 0.06),
     (0.61, 0.05), (0.55, 0.04)],
    [(0.50, 0.96), (0.50, 0.94), (0.50, 0.85), (0.50, 0.81), (0.50, 0.75), (0.50, 0.67), (0.50, 0.60), (0.50, 0.53),
     (0.50, 0.47), (0.50, 0.41), (0.50, 0.36), (0.50, 0.31), (0.50, 0.26), (0.50, 0.21), (0.50, 0.16), (0.50, 0.11),
     (0.50, 0.06)]]}

sc_Tz_Z = {'dense': [[(0.04, 0.15), (0.04, 0.25), (0.11, 0.34), (0.19, 0.42), (0.27, 0.49), (0.37, 0.61),
                      (0.47, 0.70), (0.58, 0.72), (0.63, 0.81), (0.68, 0.91), (0.86, 0.92), (0.90, 0.97),
                      (0.96, 0.91), (0.94, 0.84), (0.89, 0.74), (0.81, 0.59), (0.76, 0.52), (0.71, 0.37),
                      (0.63, 0.27), (0.53, 0.20), (0.40, 0.15), (0.27, 0.07), (0.16, 0.06), (0.06, 0.10)]]}

sc_Tz_N = {'dense': [[(0.04, 0.15), (0.05, 0.22), (0.13, 0.32), (0.24, 0.42), (0.32, 0.49), (0.42, 0.59),
                      (0.52, 0.69), (0.63, 0.76), (0.71, 0.86), (0.79, 0.93), (0.90, 0.97), (0.96, 0.92),
                      (0.94, 0.84), (0.86, 0.74), (0.79, 0.64), (0.71, 0.52), (0.63, 0.39), (0.50, 0.27),
                      (0.39, 0.22), (0.29, 0.17), (0.16, 0.09), (0.05, 0.09)]]}

sc_Tz_Nhw = {'dense': [[(0.03, 0.15), (0.03, 0.25), (0.07, 0.37), (0.16, 0.47), (0.26, 0.57), (0.34, 0.66),
                        (0.45, 0.74), (0.58, 0.76), (0.68, 0.88), (0.76, 0.92), (0.89, 0.93), (0.94, 0.97),
                        (0.96, 0.88), (0.92, 0.81), (0.86, 0.71), (0.79, 0.61), (0.68, 0.52), (0.58, 0.39),
                        (0.45, 0.29), (0.32, 0.22), (0.21, 0.15), (0.11, 0.05), (0.04, 0.07)]]}

sc_Tz_C2SU3 = {
    'light': [[(0.04, 0.84), (0.07, 0.92), (0.13, 0.95), (0.21, 0.96), (0.37, 0.96), (0.53, 0.92), (0.69, 0.90),
               (0.87, 0.90), (0.94, 0.84), (0.97, 0.75), (0.96, 0.64), (0.90, 0.59), (0.81, 0.56), (0.68, 0.53),
               (0.58, 0.50), (0.50, 0.48), (0.44, 0.53), (0.41, 0.62), (0.34, 0.69), (0.21, 0.72), (0.16, 0.76),
               (0.07, 0.78)]],
    'dense': [[(0.04, 0.82), (0.07, 0.90), (0.13, 0.95), (0.23, 0.96), (0.21, 0.92), (0.13, 0.89), (0.10, 0.84),
               (0.12, 0.79), (0.07, 0.79)],
              [(0.84, 0.90), (0.90, 0.89), (0.95, 0.81), (0.97, 0.72), (0.95, 0.64), (0.89, 0.58), (0.77, 0.55),
               (0.73, 0.56), (0.84, 0.64), (0.90, 0.72), (0.89, 0.83)],
              [(0.03, 0.69), (0.04, 0.72), (0.10, 0.73), (0.21, 0.73), (0.34, 0.70), (0.42, 0.65), (0.44, 0.56),
               (0.39, 0.48), (0.36, 0.44), (0.45, 0.39), (0.52, 0.31), (0.52, 0.27), (0.42, 0.25), (0.28, 0.24),
               (0.26, 0.16), (0.26, 0.14), (0.13, 0.13), (0.10, 0.07), (0.07, 0.03), (0.04, 0.04), (0.03, 0.13),
               (0.03, 0.41)]]}

sc_Tz_C3SU3 = {
    'light': [[(0.03, 0.84), (0.07, 0.95), (0.13, 0.96), (0.33, 0.93), (0.46, 0.90), (0.65, 0.90), (0.81, 0.90),
               (0.88, 0.87), (0.96, 0.81), (0.95, 0.72), (0.96, 0.67), (0.88, 0.64), (0.75, 0.61), (0.62, 0.56),
               (0.49, 0.50), (0.33, 0.47), (0.31, 0.59), (0.23, 0.72), (0.07, 0.73)]],
    'dense': [[(0.08, 0.72), (0.17, 0.73), (0.26, 0.72), (0.31, 0.64), (0.31, 0.48), (0.30, 0.44), (0.39, 0.34),
               (0.44, 0.28), (0.41, 0.25), (0.30, 0.24), (0.21, 0.20), (0.20, 0.13), (0.15, 0.10), (0.13, 0.03),
               (0.10, 0.03), (0.09, 0.25), (0.08, 0.48)],
              [(0.03, 0.87), (0.07, 0.96), (0.13, 0.96), (0.17, 0.90), (0.13, 0.82), (0.13, 0.78), (0.07, 0.78),
               (0.03, 0.81)],
              [(0.46, 0.89), (0.54, 0.90), (0.52, 0.82), (0.55, 0.78), (0.65, 0.76), (0.70, 0.78), (0.65, 0.72),
               (0.55, 0.73), (0.47, 0.78), (0.45, 0.84)],
              [(0.81, 0.90), (0.88, 0.89), (0.96, 0.81), (0.95, 0.70), (0.96, 0.67), (0.88, 0.64), (0.71, 0.59),
               (0.62, 0.56), (0.62, 0.59), (0.77, 0.65), (0.88, 0.73), (0.86, 0.82)]]}

sc_Tz_C2SU4 = {'curve': [[(0.07, 0.05), (0.04, 0.15), (0.05, 0.25), (0.08, 0.34), (0.13, 0.44), (0.20, 0.53),
                          (0.28, 0.61), (0.38, 0.70), (0.50, 0.79), (0.62, 0.85), (0.73, 0.90), (0.83, 0.93),
                          (0.95, 0.96)]]}

sc_Tz_C3SU4 = {'curve': [[(0.05, 0.95), (0.11, 0.85), (0.17, 0.74), (0.22, 0.64), (0.28, 0.54), (0.33, 0.44),
                          (0.39, 0.34), (0.44, 0.25), (0.50, 0.15), (0.55, 0.08), (0.58, 0.05)],
                         [(0.95, 0.95), (0.89, 0.85), (0.83, 0.74), (0.78, 0.64), (0.72, 0.54), (0.67, 0.44),
                          (0.61, 0.34), (0.56, 0.25), (0.50, 0.15), (0.45, 0.08), (0.42, 0.05)],
                         [(0.50, 0.96), (0.50, 0.05)]]}

sc_Tz_C4SU4 = {'curve': [[(0.04, 0.06), (0.04, 0.20), (0.05, 0.34), (0.08, 0.47), (0.13, 0.57), (0.19, 0.64),
                          (0.29, 0.71), (0.43, 0.79), (0.59, 0.85), (0.76, 0.90), (0.86, 0.93), (0.96, 0.95)]]}

scatter_panels = {
    (1, 0): sc_N_Z,
    (2, 0): sc_Nhw_Z, (2, 1): sc_Nhw_N,
    (3, 0): sc_C2SU3_Z, (3, 1): sc_C2SU3_N, (3, 2): sc_C2SU3_Nhw,
    (4, 0): sc_C3SU3_Z, (4, 1): sc_C3SU3_N, (4, 2): sc_C3SU3_Nhw, (4, 3): sc_C3SU3_C2SU3,
    (5, 0): sc_C2SU4_Z, (5, 1): sc_C2SU4_N, (5, 2): sc_C2SU4_Nhw, (5, 3): sc_C2SU4_C2SU3,
    (5, 4): sc_C2SU4_C3SU3,
    (6, 0): sc_C3SU4_Z, (6, 1): sc_C3SU4_N, (6, 2): sc_C3SU4_Nhw, (6, 3): sc_C3SU4_C2SU3,
    (6, 4): sc_C3SU4_C3SU3, (6, 5): sc_C3SU4_C2SU4,
    (7, 0): sc_C4SU4_Z, (7, 1): sc_C4SU4_N, (7, 2): sc_C4SU4_Nhw, (7, 3): sc_C4SU4_C2SU3,
    (7, 4): sc_C4SU4_C3SU3, (7, 5): sc_C4SU4_C2SU4, (7, 6): sc_C4SU4_C3SU4,
    (8, 0): sc_Tz_Z, (8, 1): sc_Tz_N, (8, 2): sc_Tz_Nhw, (8, 3): sc_Tz_C2SU3,
    (8, 4): sc_Tz_C3SU3, (8, 5): sc_Tz_C2SU4, (8, 6): sc_Tz_C3SU4, (8, 7): sc_Tz_C4SU4,
}

POINT = 'steelblue'
cmap = colormaps['YlOrRd']


def draw_cloud(ax, layers):
    for poly in layers.get('light', []):
        xs, ys = zip(*poly)
        ax.fill(xs, ys, fc=POINT, ec='none', alpha=0.40, lw=0)
    for poly in layers.get('dense', []):
        xs, ys = zip(*poly)
        ax.fill(xs, ys, fc=POINT, ec=POINT, lw=2.6, joinstyle='round')
    for pts in layers.get('dots', []):
        xs, ys = zip(*pts)
        ax.scatter(xs, ys, s=18, color=POINT, alpha=0.4, lw=0)
    for pts in layers.get('pts', []):
        xs, ys = zip(*pts)
        ax.scatter(xs, ys, s=18, color=POINT, alpha=0.85, lw=0)
    for line in layers.get('curve', []):
        xs, ys = zip(*line)
        ax.plot(xs, ys, color=POINT, lw=3.6, solid_capstyle='round')
    ax.set_xlim(0, 1)
    ax.set_ylim(0, 1)


fig, axes = plt.subplots(9, 9, figsize=(11.437, 11.46), dpi=300)
fig.subplots_adjust(left=0.0443, right=0.9857, top=0.9604, bottom=0.0148,
                    wspace=0.252, hspace=0.256)

n = len(labels)
for i in range(n):
    for j in range(n):
        ax = axes[i, j]
        if i == j:
            ax.set_facecolor('#f4f5f7')
            ax.bar(range(len(hists[i])), hists[i], width=1.0, color=POINT, alpha=0.75, lw=0)
        elif j > i:
            v = corr_rows[i][j - i - 1]
            ax.set_facecolor(cmap(v))
            ax.text(0.5, 0.5, f'{v:.2f}', transform=ax.transAxes, ha='center', va='center',
                    fontsize=15, fontweight='bold', color='white' if v > 0.55 else 'black')
        else:
            ax.set_facecolor('#f9f9f9')
            draw_cloud(ax, scatter_panels[(i, j)])

        ax.set_xticks([])
        ax.set_yticks([])
        for sp in ax.spines.values():
            sp.set_color('#cccccc')
            sp.set_linewidth(0.6)

        if i == 0:
            ax.set_title(labels[j], fontsize=18, pad=6)
        if j == 0:
            ax.set_ylabel(labels[i], fontsize=18, labelpad=10)

fig.savefig('out.png', dpi=300)
